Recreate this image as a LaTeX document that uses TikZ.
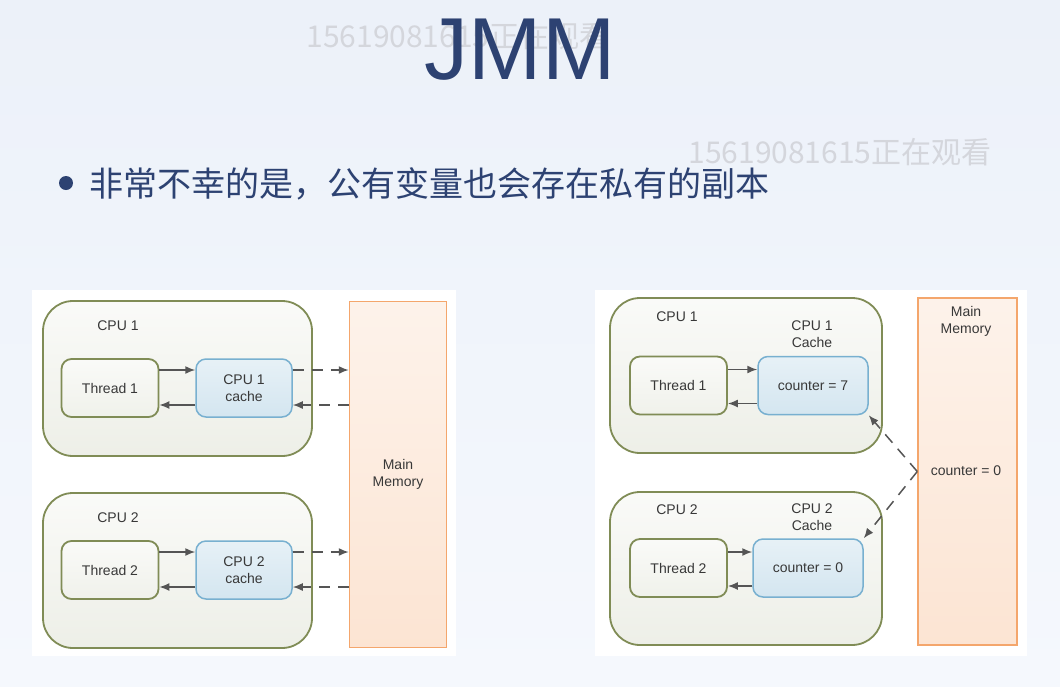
\documentclass[tikz,border=0pt]{standalone}
\usepackage{fontspec}
\setmainfont{Liberation Sans}
\newfontfamily\cjk{Noto Sans CJK SC}
\usepackage{tikz}
\usetikzlibrary{
	arrows.meta, shapes.geometric, positioning, calc, backgrounds
}
\definecolor{slidenavy}     {RGB}{45,  66,  114}
\definecolor{cpuolive}      {RGB}{128, 140, 86}
\definecolor{cacheblue}     {RGB}{120, 176, 208}
\definecolor{memorange}     {RGB}{244, 166, 108}
\definecolor{arrowgray}     {RGB}{85,  85,  85}
\definecolor{markgray}      {RGB}{212, 214, 220}

\begin{document}
\begin{tikzpicture}[x=1pt,y=-1pt,
	txt/.style={font=\fontsize{14}{17}\selectfont, text=black!78, align=center, inner sep=0pt},
	cpubox/.style={draw=cpuolive, line width=1.8pt, rounded corners=30pt, top color=white!96!cpuolive, bottom color=white!86!cpuolive, minimum width=269pt, minimum height=155pt},
	thrbox/.style={draw=cpuolive, line width=1.8pt, rounded corners=10pt, top color=white!96!cpuolive, bottom color=white!88!cpuolive, minimum width=97pt, minimum height=58pt, txt},
	cachebox/.style={draw=cacheblue, line width=1.5pt, rounded corners=10pt, top color=white!82!cacheblue, bottom color=white!68!cacheblue, minimum height=58pt, txt},
	membox/.style={draw=memorange, line width=1.5pt, top color=white!86!memorange, bottom color=white!70!memorange, minimum width=97pt},
	solidarr/.style={draw=arrowgray, line width=1.5pt, -{Latex[length=10pt,width=8pt]}},
	dasharr/.style={solidarr, dash pattern=on 11pt off 8pt},
	wmark/.style={font=\cjk\fontsize{30}{30}\selectfont, text=markgray, inner sep=0pt}
	]
	\useasboundingbox (0,0) rectangle (1060,686);
	\fill[top color={rgb,255:red,236;green,241;blue,249}, bottom color={rgb,255:red,245;green,248;blue,253}] (0,0) rectangle (1060,686);
	\node[wmark] (wmarkA) at (458,36) {15619081615正在观看};
	\node[font=\fontsize{88}{88}\selectfont, text=slidenavy, anchor=base, inner sep=0pt] (title) at (520,79) {JMM};
	\node[wmark] (wmarkB) at (840,152) {15619081615正在观看};
	\fill[slidenavy] (66,183) circle (7);
	\node[font=\cjk\fontsize{34}{36}\selectfont, text=slidenavy, anchor=west, inner sep=0pt] (bullet) at (89,184) {非常不幸的是，公有变量也会存在私有的副本};
	\fill[white] (32,290) rectangle (456,656);
	\fill[white] (595,290) rectangle (1027,656);
	% left: cpu caches next to main memory
	\node[cpubox] (cpuA) at (177.5,378.5) {};
	\node[cpubox] (cpuB) at (177.5,570.5) {};
	\node[txt] (cpuAlbl) at (118,326) {CPU 1};
	\node[txt] (cpuBlbl) at (118,518) {CPU 2};
	\node[thrbox] (thrA) at (110,388) {Thread 1};
	\node[thrbox] (thrB) at (110,570) {Thread 2};
	\node[cachebox, minimum width=96pt] (cacheA) at (244,388) {CPU 1\\cache};
	\node[cachebox, minimum width=96pt] (cacheB) at (244,570) {CPU 2\\cache};
	\node[membox, minimum height=346pt] (memA) at (398,474.5) {};
	\node[txt] (memAlbl) at (memA) {Main\\Memory};
	\foreach \t/\c in {thrA/cacheA,thrB/cacheB}{
		\draw[solidarr] ([yshift=18pt]\t.east) -- ([yshift=18pt]\c.west);
		\draw[solidarr] ([yshift=-17pt]\c.west) -- ([yshift=-17pt]\t.east);
		\coordinate (\c up) at ([yshift=18pt]\c.east);
		\coordinate (\c dn) at ([yshift=-17pt]\c.east);
		\draw[dasharr] (\c up) -- (\c up -| memA.west);
		\draw[dasharr] (\c dn -| memA.west) -- (\c dn);
	}
	% right: counter copies
	\node[cpubox, minimum width=272pt, minimum height=155pt] (cpuC) at (746,375.5) {};
	\node[cpubox, minimum width=272pt, minimum height=153pt] (cpuD) at (746,568.5) {};
	\node[txt] (cpuClbl) at (677,317) {CPU 1};
	\node[txt] (cpuDlbl) at (677,510) {CPU 2};
	\node[txt] (cacheClbl) at (812,334) {CPU 1\\Cache};
	\node[txt] (cacheDlbl) at (812,517.5) {CPU 2\\Cache};
	\node[thrbox] (thrC) at (678.5,385.5) {Thread 1};
	\node[thrbox] (thrD) at (678.5,568) {Thread 2};
	\node[cachebox, minimum width=110pt] (cacheC) at (813,385.5) {counter = 7};
	\node[cachebox, minimum width=110pt] (cacheD) at (808,568) {counter = 0};
	\node[membox, minimum width=99pt, minimum height=347pt] (memB) at (967.5,471.5) {};
	\node[txt] (memBlbl) at (966,321) {Main\\Memory};
	\node[txt] (memBval) at (966,471) {counter = 0};
	\foreach \t/\c in {thrC/cacheC,thrD/cacheD}{
		\draw[solidarr] ([yshift=16pt]\t.east) -- ([yshift=16pt]\c.west);
		\draw[solidarr] ([yshift=-18pt]\c.west) -- ([yshift=-18pt]\t.east);
	}
	\draw[dasharr] (memB.west) -- (cacheC.south east);
	\draw[dasharr] (memB.west) -- (cacheD.north east);
\end{tikzpicture}
\end{document}
